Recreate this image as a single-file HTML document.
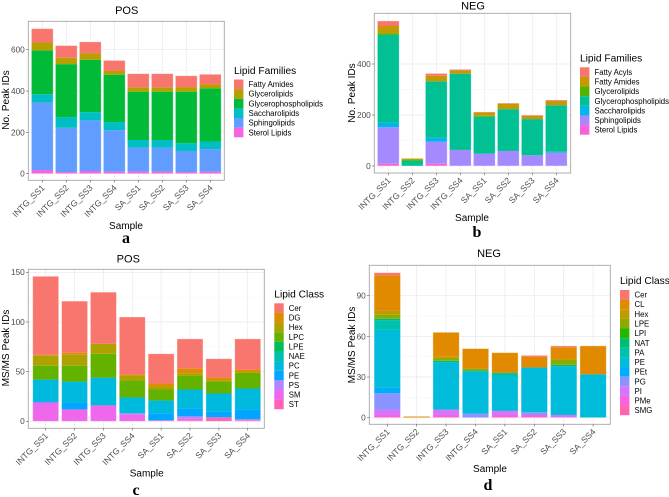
<!DOCTYPE html>
<html>
<head>
<meta charset="utf-8">
<title>Lipid chart panels</title>
<style>
html,body{margin:0;padding:0;background:#fff;}
body{width:669px;height:497px;overflow:hidden;}
svg{display:block;filter:blur(0.3px);font-family:"Liberation Sans",sans-serif;}
.lab{font-family:"Liberation Serif",serif;font-weight:bold;font-size:16px;fill:#000;}
</style>
</head>
<body>
<svg id="figure" xmlns="http://www.w3.org/2000/svg" width="669" height="497" viewBox="0 0 669 497">
<rect width="669" height="497" fill="#ffffff"/>
<text class="lab" x="126" y="243" text-anchor="middle">a</text>
<text class="lab" x="477" y="237" text-anchor="middle">b</text>
<text class="lab" x="136" y="495" text-anchor="middle">c</text>
<text class="lab" x="488" y="490" text-anchor="middle">d</text>
</svg>
<script>
const samples = ["INTG_SS1","INTG_SS2","INTG_SS3","INTG_SS4","SA_SS1","SA_SS2","SA_SS3","SA_SS4"];

/* Panel a: POS, No. Peak IDs */
const aSterol = [18,8,13,10,11,11,8,10];
const aSphingo = [327,214,245,201,115,115,102,109];
const aSaccharo = [40,52,40,39,37,37,38,37];
const aGlycerophospho = [212,256,253,229,234,234,249,257];
const aGlycero = [38,31,31,18,21,21,22,19];
const aFattyAmides = [67,59,56,51,66,66,55,49];
const aTicks = [0,200,400,600];

/* Panel b: NEG, No. Peak IDs */
const bSterol = [9,0,9,0,0,0,0,0];
const bSphingo = [143,0,86,63,48,59,42,52];
const bSaccharo = [18,0,16,0,0,0,0,4];
const bGlycerophospho = [344,20,221,299,145,164,142,182];
const bGlycero = [6,5,0,0,4,0,0,0];
const bFattyAmides = [29,5,22,13,13,21,13,17];
const bFattyAcyls = [20,0,9,4,2,3,3,4];
const bTicks = [0,200,400];

/* Panel c: POS, MS/MS Peak IDs */
const cST = [0,0,0,0,0,1,4,1];
const cSM = [19,12,16,7,1,2,0,1];
const cPS = [0,0,0,1,0,2,0,0];
const cPE = [1,7,0,0,7,8,6,10];
const cPC = [22,21,28,16,13,19,18,21];
const cNAE = [0,0,0,0,0,0,0,0];
const cLPE = [0,0,0,0,0,0,0,0];
const cLPC = [14,16,24,17,11,14,12,16];
const cHex = [10,11,10,5,3,2,1,0];
const cDG = [1,2,0,1,3,5,3,3];
const cCer = [79,52,52,58,30,30,19,31];
const cTicks = [0,50,100,150];

/* Panel d: NEG, MS/MS Peak IDs */
const dSMG = [0,0,0,0,0,0,0,0];
const dPMe = [2,0,2,0,2,2,0,0];
const dPI = [4,0,4,0,3,0,2,0];
const dPG = [12,0,0,3,0,2,0,0];
const dPEt = [4,0,0,0,0,0,0,0];
const dPE = [43,0,35,31,25,33,36,32];
const dPA = [7,0,0,0,3,0,0,0];
const dNAT = [1,0,1,1,0,0,1,0];
const dLPI = [0,0,0,0,0,0,0,0];
const dLPE = [3,0,2,1,0,0,4,0];
const dHex = [3,0,1,0,0,0,0,0];
const dCL = [26,1,18,15,15,8,9,21];
const dCer = [2,0,0,0,0,1,1,0];
const dTicks = [0,30,60,90];

const NS = "http://www.w3.org/2000/svg";
const root = document.getElementById("figure");

function mk(parent, tag, attrs, txt) {
  const el = document.createElementNS(NS, tag);
  for (const k in attrs) el.setAttribute(k, attrs[k]);
  if (txt !== undefined) el.textContent = txt;
  parent.appendChild(el);
  return el;
}
function slug(s) {
  return String(s).toLowerCase().replace(/[^a-z0-9]+/g, "-");
}

function drawPanel(p) {
  const g = mk(root, "g", {});
  
  

  const n = samples.length;
  const xPos = i => p.x0 + i * p.xStep;
  const yPos = v => p.y0 - v * p.yScale;

  const bg = mk(g, "rect", {x:p.L, y:p.T, width:p.R-p.L, height:p.B-p.T, fill:"#fff"});
  
  

  for (let i = 0; i < p.ticks.length; i++) {
    const gl = mk(g, "line", {x1:p.L, x2:p.R, y1:yPos(p.ticks[i]), y2:yPos(p.ticks[i]), stroke:"#e9e9e9", "stroke-width":0.7});
    
    
    if (i + 1 < p.ticks.length) {
      const mid = (p.ticks[i] + p.ticks[i+1]) / 2;
      const ml = mk(g, "line", {x1:p.L, x2:p.R, y1:yPos(mid), y2:yPos(mid), stroke:"#f3f3f3", "stroke-width":0.5});
      
      
    }
  }
  for (let i = 0; i < n; i++) {
    const vl = mk(g, "line", {x1:xPos(i), x2:xPos(i), y1:p.T, y2:p.B, stroke:"#e9e9e9", "stroke-width":0.7});
    
    
  }

  /* stacked bars: first series sits at the bottom */
  for (let i = 0; i < n; i++) {
    let base = 0;
    const barG = mk(g, "g", {});
    
    
    for (const s of p.series) {
      const v = s.values[i];
      if (v > 0) {
        const seg = mk(barG, "rect", {x:xPos(i)-p.barW/2, width:p.barW, y:yPos(base+v), height:v*p.yScale, fill:s.color});
        
        
      }
      base += v;
    }
    if (base > 0) {
      const out = mk(barG, "rect", {x:xPos(i)-p.barW/2, width:p.barW, y:yPos(base), height:base*p.yScale, fill:"none", stroke:"#ffffff", "stroke-opacity":0.45, "stroke-width":0.8});
      
      
    }
  }

  const frame = mk(g, "rect", {x:p.L, y:p.T, width:p.R-p.L, height:p.B-p.T, fill:"none", stroke:"#a6a6a6", "stroke-width":0.9});
  
  

  for (const t of p.ticks) {
    const tm = mk(g, "line", {x1:p.L-2.2, x2:p.L, y1:yPos(t), y2:yPos(t), stroke:"#555", "stroke-width":0.6});
    
    
    const tl = mk(g, "text", {x:p.L-3.5, y:yPos(t)+2.9, "text-anchor":"end", "font-size":8.3, fill:"#4d4d4d"}, t);
    
    
  }
  for (let i = 0; i < n; i++) {
    const tm = mk(g, "line", {x1:xPos(i), x2:xPos(i), y1:p.B, y2:p.B+2.2, stroke:"#555", "stroke-width":0.6});
    
    
    const ax = xPos(i) + 3;
    const ay = p.B + 8;
    const tl = mk(g, "text", {x:ax, y:ay, "text-anchor":"end", "font-size":8.6, fill:"#4d4d4d", transform:"rotate(-45 "+ax+" "+ay+")"}, samples[i]);
    
    
  }

  const title = mk(g, "text", {x:p.titleX, y:p.titleY, "text-anchor":"middle", "font-size":11, fill:"#000"}, p.title);
  
  

  const xt = mk(g, "text", {x:p.xTitleX, y:p.xTitleY, "text-anchor":"middle", "font-size":10, fill:"#000"}, "Sample");
  
  

  const yt = mk(g, "text", {x:0, y:0, "text-anchor":"middle", "font-size":10.1, fill:"#000", transform:"translate("+p.yTitleX+" "+p.yTitleY+") rotate(-90)"}, p.yTitle);
  
  

  /* legend lists top-of-stack first */
  const lg = mk(g, "g", {});
  
  
  const lt = mk(lg, "text", {x:p.legX, y:p.legTitleY, "font-size":10.2, fill:"#000"}, p.legTitle);
  
  
  const rev = p.series.slice().reverse();
  rev.forEach((s, i) => {
    const y = p.legY + i * 9.63;
    const key = mk(lg, "rect", {x:p.legX, y:y, width:9.4, height:9.63, fill:s.color});
    
    
    const kt = mk(lg, "text", {x:p.legX+14.5, y:y+7.6, "font-size":7.8, fill:"#000"}, s.name);
    
    
  });
}

drawPanel({
  id:"a", L:28.3, R:224.3, T:21.3, B:180.3, x0:42.3, xStep:24, barW:21.8, y0:173.7, yScale:124/600,
  ticks:aTicks, title:"POS", titleX:126.7, titleY:14, xTitleX:126, xTitleY:229, yTitle:"No. Peak IDs", yTitleX:9, yTitleY:100,
  legTitle:"Lipid Families", legX:234, legTitleY:74, legY:79.5,
  series:[
    {name:"Sterol Lipids", color:"#F564E3", values:aSterol},
    {name:"Sphingolipids", color:"#619CFF", values:aSphingo},
    {name:"Saccharolipids", color:"#00BFC4", values:aSaccharo},
    {name:"Glycerophospholipids", color:"#00BA38", values:aGlycerophospho},
    {name:"Glycerolipids", color:"#B79F00", values:aGlycero},
    {name:"Fatty Amides", color:"#F8766D", values:aFattyAmides}
  ]
});
drawPanel({
  id:"b", L:374.3, R:570.7, T:13.3, B:173, x0:388.3, xStep:24, barW:21.8, y0:166, yScale:102/400,
  ticks:bTicks, title:"NEG", titleX:473, titleY:9.5, xTitleX:472, xTitleY:221, yTitle:"No. Peak IDs", yTitleX:355, yTitleY:93,
  legTitle:"Lipid Families", legX:580, legTitleY:61.5, legY:67.3,
  series:[
    {name:"Sterol Lipids", color:"#FB61D7", values:bSterol},
    {name:"Sphingolipids", color:"#A58AFF", values:bSphingo},
    {name:"Saccharolipids", color:"#00B6EB", values:bSaccharo},
    {name:"Glycerophospholipids", color:"#00C094", values:bGlycerophospho},
    {name:"Glycerolipids", color:"#53B400", values:bGlycero},
    {name:"Fatty Amides", color:"#C49A00", values:bFattyAmides},
    {name:"Fatty Acyls", color:"#F8766D", values:bFattyAcyls}
  ]
});
drawPanel({
  id:"c", L:28.3, R:264.3, T:269.3, B:428.3, x0:45.7, xStep:28.86, barW:26, y0:421.3, yScale:149/150,
  ticks:cTicks, title:"POS", titleX:128.3, titleY:262.3, xTitleX:146.7, xTitleY:476.7, yTitle:"MS/MS Peak IDs", yTitleX:9, yTitleY:348,
  legTitle:"Lipid Class", legX:274.3, legTitleY:297.5, legY:303.3,
  series:[
    {name:"ST", color:"#FF63B6", values:cST},
    {name:"SM", color:"#EF67EB", values:cSM},
    {name:"PS", color:"#B385FF", values:cPS},
    {name:"PE", color:"#00A6FF", values:cPE},
    {name:"PC", color:"#00BADE", values:cPC},
    {name:"NAE", color:"#00C1A7", values:cNAE},
    {name:"LPE", color:"#00BD5C", values:cLPE},
    {name:"LPC", color:"#64B200", values:cLPC},
    {name:"Hex", color:"#AEA200", values:cHex},
    {name:"DG", color:"#DB8E00", values:cDG},
    {name:"Cer", color:"#F8766D", values:cCer}
  ]
});
drawPanel({
  id:"d", L:369.3, R:610.3, T:265.3, B:424.3, x0:387.3, xStep:29.4, barW:26.4, y0:417.7, yScale:122/90,
  ticks:dTicks, title:"NEG", titleX:489, titleY:257, xTitleX:490, xTitleY:472, yTitle:"MS/MS Peak IDs", yTitleX:355, yTitleY:345,
  legTitle:"Lipid Class", legX:620, legTitleY:284, legY:290,
  series:[
    {name:"SMG", color:"#FF65AC", values:dSMG},
    {name:"PMe", color:"#F962DD", values:dPMe},
    {name:"PI", color:"#D575FE", values:dPI},
    {name:"PG", color:"#8B93FF", values:dPG},
    {name:"PEt", color:"#00ACFC", values:dPEt},
    {name:"PE", color:"#00BBDA", values:dPE},
    {name:"PA", color:"#00C1AB", values:dPA},
    {name:"NAT", color:"#00BE70", values:dNAT},
    {name:"LPI", color:"#24B700", values:dLPI},
    {name:"LPE", color:"#8CAB00", values:dLPE},
    {name:"Hex", color:"#BE9C00", values:dHex},
    {name:"CL", color:"#E18A00", values:dCL},
    {name:"Cer", color:"#F8766D", values:dCer}
  ]
});
</script>
</body>
</html>
